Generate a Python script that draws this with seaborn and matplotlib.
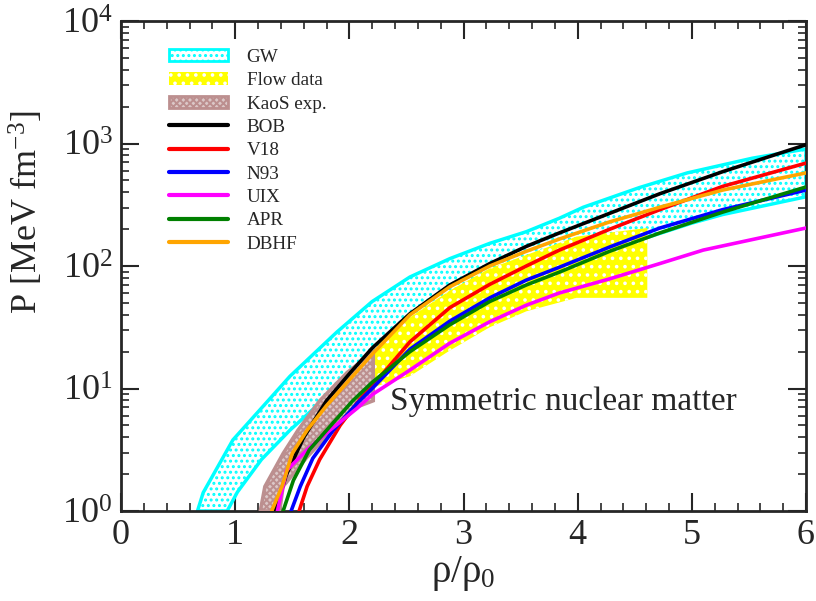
import numpy as np
import pandas as pd
import matplotlib
matplotlib.use('Agg')
import matplotlib.pyplot as plt
import seaborn as sns
from matplotlib.patches import Patch
from matplotlib.lines import Line2D
from matplotlib.ticker import MultipleLocator, LogLocator

# values (x = rho/rho0, y = log10 P)
bob_x = [1.35, 1.45, 1.6, 1.8, 2.0, 2.2, 2.53, 2.88, 3.23, 3.55, 3.84, 4.28, 4.72, 5.27, 6.0]
bob_lp = [0.0, 0.3, 0.6, 0.9, 1.12, 1.33, 1.61, 1.845, 2.02, 2.16, 2.27, 2.43, 2.59, 2.77, 2.99]

v18_x = [1.56, 1.63, 1.74, 1.92, 2.09, 2.2, 2.53, 2.88, 3.23, 3.55, 3.84, 4.28, 4.72, 5.27, 6.0]
v18_lp = [0.0, 0.2, 0.42, 0.70, 0.91, 1.02, 1.38, 1.66, 1.85, 2.0, 2.13, 2.3, 2.46, 2.65, 2.84]

n93_x = [1.49, 1.57, 1.68, 1.86, 2.07, 2.2, 2.53, 2.88, 3.23, 3.55, 3.84, 4.28, 4.72, 5.27, 6.0]
n93_lp = [0.0, 0.2, 0.43, 0.66, 0.88, 1.0, 1.32, 1.55, 1.74, 1.885, 1.99, 2.155, 2.31, 2.46, 2.62]

uix_x = [1.37, 1.45, 1.63, 1.83, 2.07, 2.2, 2.53, 2.88, 3.23, 3.55, 3.84, 4.28, 4.72, 5.1, 5.5, 6.0]
uix_lp = [0.0, 0.33, 0.5, 0.66, 0.84, 0.95, 1.15, 1.37, 1.545, 1.68, 1.78, 1.895, 2.02, 2.13, 2.21, 2.31]

apr_x = [1.42, 1.51, 1.65, 1.83, 2.03, 2.2, 2.53, 2.88, 3.23, 3.55, 3.84, 4.28, 4.72, 5.27, 6.0]
apr_lp = [0.0, 0.25, 0.5, 0.69, 0.9, 1.05, 1.30, 1.52, 1.71, 1.845, 1.95, 2.12, 2.27, 2.44, 2.645]

dbhf_x = [1.32, 1.41, 1.5, 1.63, 1.8, 2.0, 2.2, 2.53, 2.88, 3.23, 3.55, 3.84, 4.28, 4.54, 4.72, 5.27, 6.0]
dbhf_lp = [0.0, 0.2, 0.47, 0.66, 0.86, 1.07, 1.28, 1.6, 1.83, 2.0, 2.12, 2.22, 2.36, 2.43, 2.48, 2.62, 2.76]

gw_up_x = [0.67, 0.72, 0.98, 1.24, 1.48, 1.89, 2.2, 2.53, 2.88, 3.23, 3.55, 3.84, 4.05, 4.54, 4.96, 5.53, 6.0]
gw_up_lp = [0.0, 0.15, 0.58, 0.85, 1.1, 1.46, 1.71, 1.91, 2.06, 2.185, 2.28, 2.39, 2.48, 2.64, 2.76, 2.88, 2.955]
gw_lo_x = [0.93, 1.02, 1.23, 1.48, 1.74, 1.94, 2.21, 2.56, 3.0, 3.5, 4.0, 4.6, 5.0, 5.27, 6.0]
gw_lo_lp = [0.0, 0.155, 0.42, 0.66, 0.88, 1.07, 1.29, 1.56, 1.74, 1.9, 2.03, 2.23, 2.35, 2.42, 2.565]

flow_up_x = [2.0, 2.2, 2.53, 2.88, 3.23, 3.55, 3.99, 4.61]
flow_up_lp = [1.1, 1.28, 1.58, 1.8, 1.98, 2.09, 2.24, 2.31]
flow_lo_x = [2.0, 2.24, 2.53, 2.88, 3.23, 3.55, 3.99, 4.61]
flow_lo_lp = [0.88, 1.02, 1.10, 1.31, 1.50, 1.63, 1.74, 1.74]

kaos_up_x = [1.22, 1.26, 1.42, 1.55, 1.74, 1.98, 2.21]
kaos_up_lp = [0.0, 0.2, 0.47, 0.66, 0.9, 1.13, 1.30]
kaos_lo_x = [1.39, 1.42, 1.63, 1.83, 2.07, 2.21]
kaos_lo_lp = [0.0, 0.2, 0.44, 0.64, 0.85, 0.9]

models = ['BOB', 'V18', 'N93', 'UIX', 'APR', 'DBHF']
colors = ['black', 'red', 'blue', 'magenta', 'green', 'orange']
curve_x = [bob_x, v18_x, n93_x, uix_x, apr_x, dbhf_x]
curve_lp = [bob_lp, v18_lp, n93_lp, uix_lp, apr_lp, dbhf_lp]

rows = []
for m, xs, lps in zip(models, curve_x, curve_lp):
    for xx, lp in zip(xs, lps):
        rows.append({'model': m, 'rho': xx, 'P': 10 ** lp})
curves = pd.DataFrame(rows)


def band(up_x, up_lp, lo_x, lo_lp):
    xs = list(up_x) + list(lo_x)[::-1]
    ps = [10 ** v for v in list(up_lp) + list(lo_lp)[::-1]]
    return xs, ps


sns.set_style('ticks')
plt.rcParams['font.family'] = ['Liberation Serif', 'DejaVu Serif']
plt.rcParams['mathtext.fontset'] = 'custom'
plt.rcParams['mathtext.rm'] = 'Liberation Serif'
plt.rcParams['mathtext.it'] = 'Liberation Serif:italic'
plt.rcParams['hatch.linewidth'] = 1.4

fig = plt.figure(figsize=(8.16, 6.01), dpi=100)
ax = fig.add_axes([121 / 816, 90 / 601, 685 / 816, 490 / 601])
ax.set_yscale('log')

gx, gp = band(gw_up_x, gw_up_lp, gw_lo_x, gw_lo_lp)
ax.fill(gx, gp, facecolor='white', edgecolor='cyan', hatch='...', lw=2.5, zorder=1)

fx, fp = band(flow_up_x, flow_up_lp, flow_lo_x, flow_lo_lp)
ax.fill(fx, fp, facecolor='yellow', edgecolor='none', lw=0, zorder=2)
ax.fill(fx, fp, facecolor='none', edgecolor='white', hatch='..', lw=0, zorder=2.1)

kx, kp = band(kaos_up_x, kaos_up_lp, kaos_lo_x, kaos_lo_lp)
ax.fill(kx, kp, facecolor='#dcc8c8', edgecolor='#bc8f8f', hatch='xxxxx', lw=2.5, zorder=3)

sns.lineplot(data=curves, x='rho', y='P', hue='model', hue_order=models,
             palette=colors, sort=False, estimator=None, units='model',
             lw=2.6, legend=False, ax=ax, zorder=4)

ax.set_xlim(0, 6)
ax.set_ylim(1, 1e4)
ax.xaxis.set_major_locator(MultipleLocator(1))
ax.xaxis.set_minor_locator(MultipleLocator(0.2))
ax.yaxis.set_major_locator(LogLocator(base=10, numticks=10))
ax.yaxis.set_minor_locator(LogLocator(base=10, subs=np.arange(2, 10), numticks=20))
ax.tick_params(which='both', direction='in', top=True, right=True)
ax.tick_params(which='major', length=13, width=1.5, labelsize=26, pad=6)
ax.tick_params(which='minor', length=6, width=1.2)
for s in ax.spines.values():
    s.set_linewidth(2)

ax.set_xlabel('ρ/ρ$_0$', fontsize=28, labelpad=1)
ax.set_ylabel('P [MeV fm$^{-3}$]', fontsize=26)
ax.yaxis.set_label_coords(-0.11, 0.61)

ax.text(2.36, 7.8, 'Symmetric nuclear matter', fontsize=24, va='center', ha='left', zorder=5)

handles = [
    Patch(facecolor='white', edgecolor='cyan', hatch='...', lw=2, label='GW'),
    Patch(facecolor='yellow', edgecolor='white', hatch='..', lw=0, label='Flow data'),
    Patch(facecolor='#dcc8c8', edgecolor='#bc8f8f', hatch='xxxxx', lw=2, label='KaoS exp.'),
]
for m, c in zip(models, colors):
    handles.append(Line2D([], [], color=c, lw=3, label=m))
ax.legend(handles=handles, loc='upper left', bbox_to_anchor=(0.07, 0.943),
          frameon=False, fontsize=13.8, handlelength=3.1, handleheight=0.6,
          labelspacing=0.33, handletextpad=0.95, borderpad=0, borderaxespad=0)

fig.savefig('out.png', dpi=100)
